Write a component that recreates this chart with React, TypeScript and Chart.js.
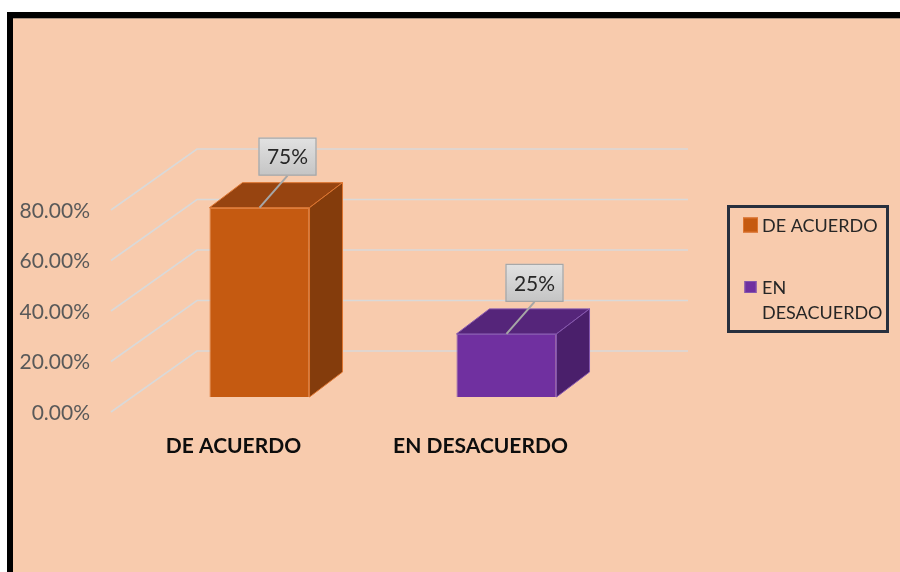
import { useEffect, useRef } from "react";
import { Chart, registerables } from "chart.js";

Chart.register(...registerables);

const categories = ["DE ACUERDO", "EN DESACUERDO"];
const values = [0.75, 0.25];
const dataLabels = ["75%", "25%"];
const legendLabels = [["DE ACUERDO"], ["EN", "DESACUERDO"]];

const frontColors = ["#C55A11", "#7030A0"];
const topColors = ["#974410", "#55257A"];
const sideColors = ["#843C0C", "#4A1F6B"];
const edgeColors = ["#DD7530", "#8456AE"];

const FONT = "Lato, 'Open Sans', sans-serif";
const DEPTH_X = 33;
const DEPTH_Y = -25;

const threeD = {
  id: "threeD",
  beforeDatasetsDraw(chart: any) {
    const { ctx, chartArea } = chart;
    const ys = chart.scales.y;
    ctx.save();
    ctx.strokeStyle = "#D9D9D9";
    ctx.lineWidth = 1.6;
    for (const t of ys.ticks) {
      const yb = ys.getPixelForValue(t.value);
      ctx.beginPath();
      ctx.moveTo(chartArea.left - 25, yb + 15);
      ctx.lineTo(chartArea.left + 61, yb - 46);
      ctx.lineTo(chartArea.right + 58, yb - 46);
      ctx.stroke();
    }
    ctx.restore();
  },
  afterDatasetsDraw(chart: any) {
    const { ctx } = chart;
    const meta = chart.getDatasetMeta(0);
    ctx.save();
    meta.data.forEach((bar: any, i: number) => {
      const x0 = bar.x - bar.width / 2;
      const x1 = bar.x + bar.width / 2;
      const top = bar.y;
      const base = bar.base;
      ctx.lineWidth = 1;
      ctx.strokeStyle = edgeColors[i];
      ctx.beginPath();
      ctx.moveTo(x0, top);
      ctx.lineTo(x1, top);
      ctx.lineTo(x1 + DEPTH_X, top + DEPTH_Y);
      ctx.lineTo(x0 + DEPTH_X, top + DEPTH_Y);
      ctx.closePath();
      ctx.fillStyle = topColors[i];
      ctx.fill();
      ctx.stroke();
      ctx.beginPath();
      ctx.moveTo(x1, top);
      ctx.lineTo(x1 + DEPTH_X, top + DEPTH_Y);
      ctx.lineTo(x1 + DEPTH_X, base + DEPTH_Y);
      ctx.lineTo(x1, base);
      ctx.closePath();
      ctx.fillStyle = sideColors[i];
      ctx.fill();
      ctx.stroke();
    });

    meta.data.forEach((bar: any, i: number) => {
      const w = 58;
      const h = 38;
      const cx = bar.x + 28;
      const bottom = bar.y - 32;
      const bx = cx - w / 2;
      const by = bottom - h;
      ctx.strokeStyle = "#A6A6A6";
      ctx.lineWidth = 2;
      ctx.beginPath();
      ctx.moveTo(cx, bottom);
      ctx.lineTo(bar.x, bar.y);
      ctx.stroke();
      const g = ctx.createLinearGradient(0, by, 0, by + h);
      g.addColorStop(0, "#E2E2E2");
      g.addColorStop(1, "#C4C4C4");
      ctx.fillStyle = g;
      ctx.fillRect(bx, by, w, h);
      ctx.lineWidth = 1.2;
      ctx.strokeStyle = "#A6A6A6";
      ctx.strokeRect(bx + 0.5, by + 0.5, w - 1, h - 1);
      ctx.fillStyle = "#262626";
      ctx.font = `21px ${FONT}`;
      ctx.textAlign = "center";
      ctx.textBaseline = "middle";
      ctx.fillText(dataLabels[i], cx, by + h / 2 + 1);
    });
    ctx.restore();
  },
  afterDraw(chart: any) {
    const { ctx, chartArea } = chart;
    const lx = chartArea.right + 97;
    const ly = 205;
    ctx.save();
    ctx.strokeStyle = "#28303E";
    ctx.lineWidth = 3;
    ctx.strokeRect(lx + 1.5, ly + 1.5, 159, 125);
    ctx.font = `18px ${FONT}`;
    ctx.textAlign = "left";
    ctx.textBaseline = "middle";
    const rows = [225, 287];
    const sizes = [15, 12];
    legendLabels.forEach((lines, i) => {
      const s = sizes[i];
      const sx = lx + 16 + (15 - s) / 2;
      ctx.fillStyle = frontColors[i];
      ctx.fillRect(sx, rows[i] - s / 2, s, s);
      ctx.strokeStyle = edgeColors[i];
      ctx.lineWidth = 1;
      ctx.strokeRect(sx + 0.5, rows[i] - s / 2 + 0.5, s - 1, s - 1);
      ctx.fillStyle = "#262626";
      lines.forEach((ln, j) => {
        ctx.fillText(ln, lx + 35, rows[i] + j * 25 + 1);
      });
    });
    ctx.restore();
  },
};

export default function App() {
  const ref = useRef<HTMLCanvasElement>(null);
  useEffect(() => {
    document.body.style.margin = "0";
    document.body.style.overflow = "hidden";
    const chart = new Chart(ref.current!, {
      type: "bar",
      data: {
        labels: categories,
        datasets: [
          {
            data: values,
            backgroundColor: frontColors,
            borderColor: edgeColors,
            borderWidth: 1,
            barPercentage: 0.405,
            categoryPercentage: 1,
          },
        ],
      },
      options: {
        responsive: false,
        animation: false,
        devicePixelRatio: 1,
        layout: { padding: { left: 10, right: 270, top: 195, bottom: 0 } },
        plugins: {
          legend: { display: false },
          tooltip: { enabled: false },
        },
        scales: {
          x: {
            grid: { display: false, drawTicks: false },
            border: { display: false },
            ticks: {
              font: { family: FONT, size: 21, weight: "bold" },
              color: "#0D0D0D",
              padding: 37,
              labelOffset: -26,
              maxRotation: 0,
            },
            afterFit(s: any) {
              s.height = 175;
            },
          },
          y: {
            min: 0,
            max: 0.8,
            grid: { display: false, drawTicks: false },
            border: { display: false },
            ticks: {
              stepSize: 0.2,
              font: { family: FONT, size: 21 },
              color: "#595959",
              padding: 46,
              labelOffset: 16,
              callback: (v: any) => (Number(v) * 100).toFixed(2) + "%",
            },
            afterFit(s: any) {
              s.width = 126;
            },
          },
        },
      },
      plugins: [threeD],
    });
    return () => chart.destroy();
  }, []);
  return (
    <div style={{ position: "relative", width: 900, height: 572, overflow: "hidden", background: "#fff" }}>
      <div
        style={{
          position: "absolute",
          left: 7,
          top: 12,
          width: 1000,
          height: 700,
          borderTop: "6px solid #000",
          borderLeft: "6px solid #000",
          background: "#F8CBAD",
          boxShadow: "inset 0 1px 0 #A89282",
        }}
      />
      <canvas ref={ref} width={900} height={572} style={{ position: "absolute", left: 0, top: 0 }} />
    </div>
  );
}
